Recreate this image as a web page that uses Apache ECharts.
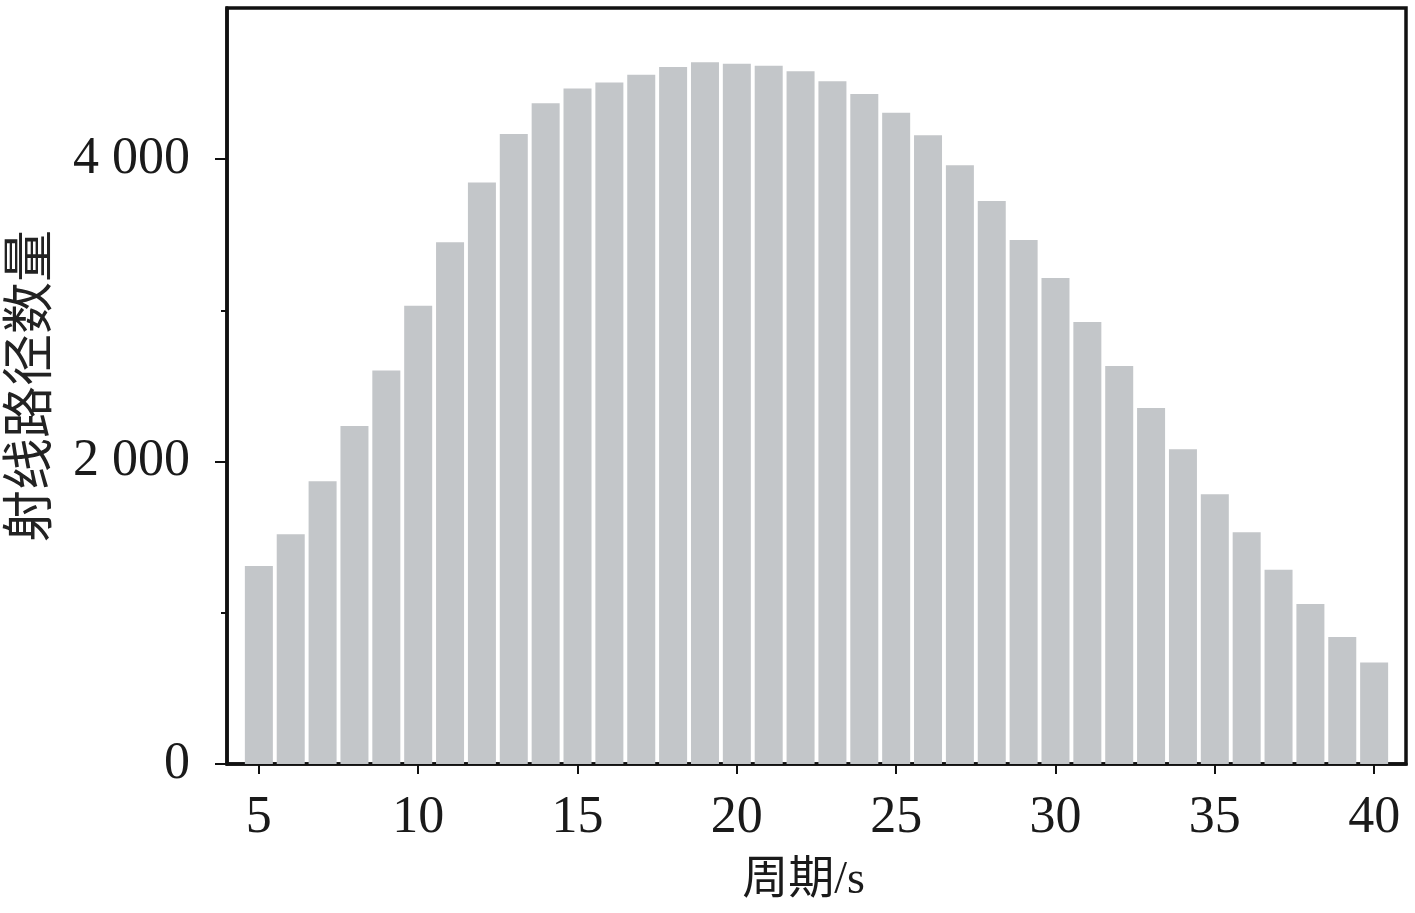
<!DOCTYPE html>
<html>
<head>
<meta charset="utf-8">
<script src="https://cdn.jsdelivr.net/npm/echarts@6/dist/echarts.min.js"></script>
<style>
html,body{margin:0;padding:0;background:#fff;}
#chart{width:1415px;height:913px;}
</style>
</head>
<body>
<div id="chart"></div>
<script>
// Period (s) for each bar
const periods = [5,6,7,8,9,10,11,12,13,14,15,16,17,18,19,20,21,22,23,24,25,26,27,28,29,30,31,32,33,34,35,36,37,38,39,40];
// Number of ray paths for each period
const rayCounts = [1309,1520,1870,2235,2603,3030,3450,3846,4167,4370,4467,4508,4559,4609,4642,4632,4618,4581,4515,4431,4308,4158,3960,3723,3465,3215,2924,2632,2354,2081,1784,1533,1285,1058,840,671];
// Tick values
const xTickValues = [5,10,15,20,25,30,35,40];
const yMajorTicks = [0,2000,4000];
const yMinorTicks = [1000,3000];
const xName = '周期/s';
const yName = '射线路径数量';

const serif = '"Liberation Serif", "Noto Sans CJK SC", serif';
const chart = echarts.init(document.getElementById('chart'), null, {renderer:'canvas'});

function fmt(v){
  return String(v).replace(/\B(?=(\d{3})+$)/g, ' ');
}

chart.setOption({
  animation: false,
  backgroundColor: '#fff',
  grid: {
    left: 227, right: 9, top: 8, bottom: 149,
    containLabel: false, outerBoundsMode: 'none',
    show: true, borderColor: '#111', borderWidth: 3.5, backgroundColor: 'transparent'
  },
  xAxis: {
    type: 'value', min: 4, max: 41,
    name: xName, nameLocation: 'middle', nameGap: 94,
    nameTextStyle: {fontFamily: serif, fontSize: 46, color: '#1a1a1a', padding: [0, 26, 0, 0]},
    axisLine: {show: true, lineStyle: {color: '#111', width: 3.5}},
    axisTick: {show: true, customValues: xTickValues, length: 10, lineStyle: {color: '#111', width: 2}},
    axisLabel: {customValues: xTickValues, margin: 28, fontFamily: serif, fontSize: 52, color: '#1a1a1a'},
    splitLine: {show: false}
  },
  yAxis: [{
    type: 'value', min: 0, max: 5000,
    name: yName, nameLocation: 'middle', nameGap: 174,
    nameTextStyle: {fontFamily: '"Noto Sans CJK SC", sans-serif', fontSize: 52, color: '#222'},
    axisLine: {show: true, lineStyle: {color: '#111', width: 3.5}},
    axisTick: {show: true, customValues: yMajorTicks, length: 12, lineStyle: {color: '#111', width: 2}},
    axisLabel: {customValues: yMajorTicks, margin: 37, fontFamily: serif, fontSize: 52, color: '#1a1a1a', formatter: fmt},
    splitLine: {show: false}
  },{
    type: 'value', min: 0, max: 5000, position: 'left',
    axisLine: {show: false},
    axisTick: {show: true, customValues: yMinorTicks, length: 6, lineStyle: {color: '#111', width: 2}},
    axisLabel: {show: false},
    splitLine: {show: false}
  }],
  series: [{
    type: 'bar',
    xAxisIndex: 0, yAxisIndex: 0,
    data: periods.map((p, i) => [p, rayCounts[i]]),
    barWidth: 28,
    itemStyle: {color: '#c3c6c9'},
    silent: true
  }]
});
</script>
</body>
</html>
